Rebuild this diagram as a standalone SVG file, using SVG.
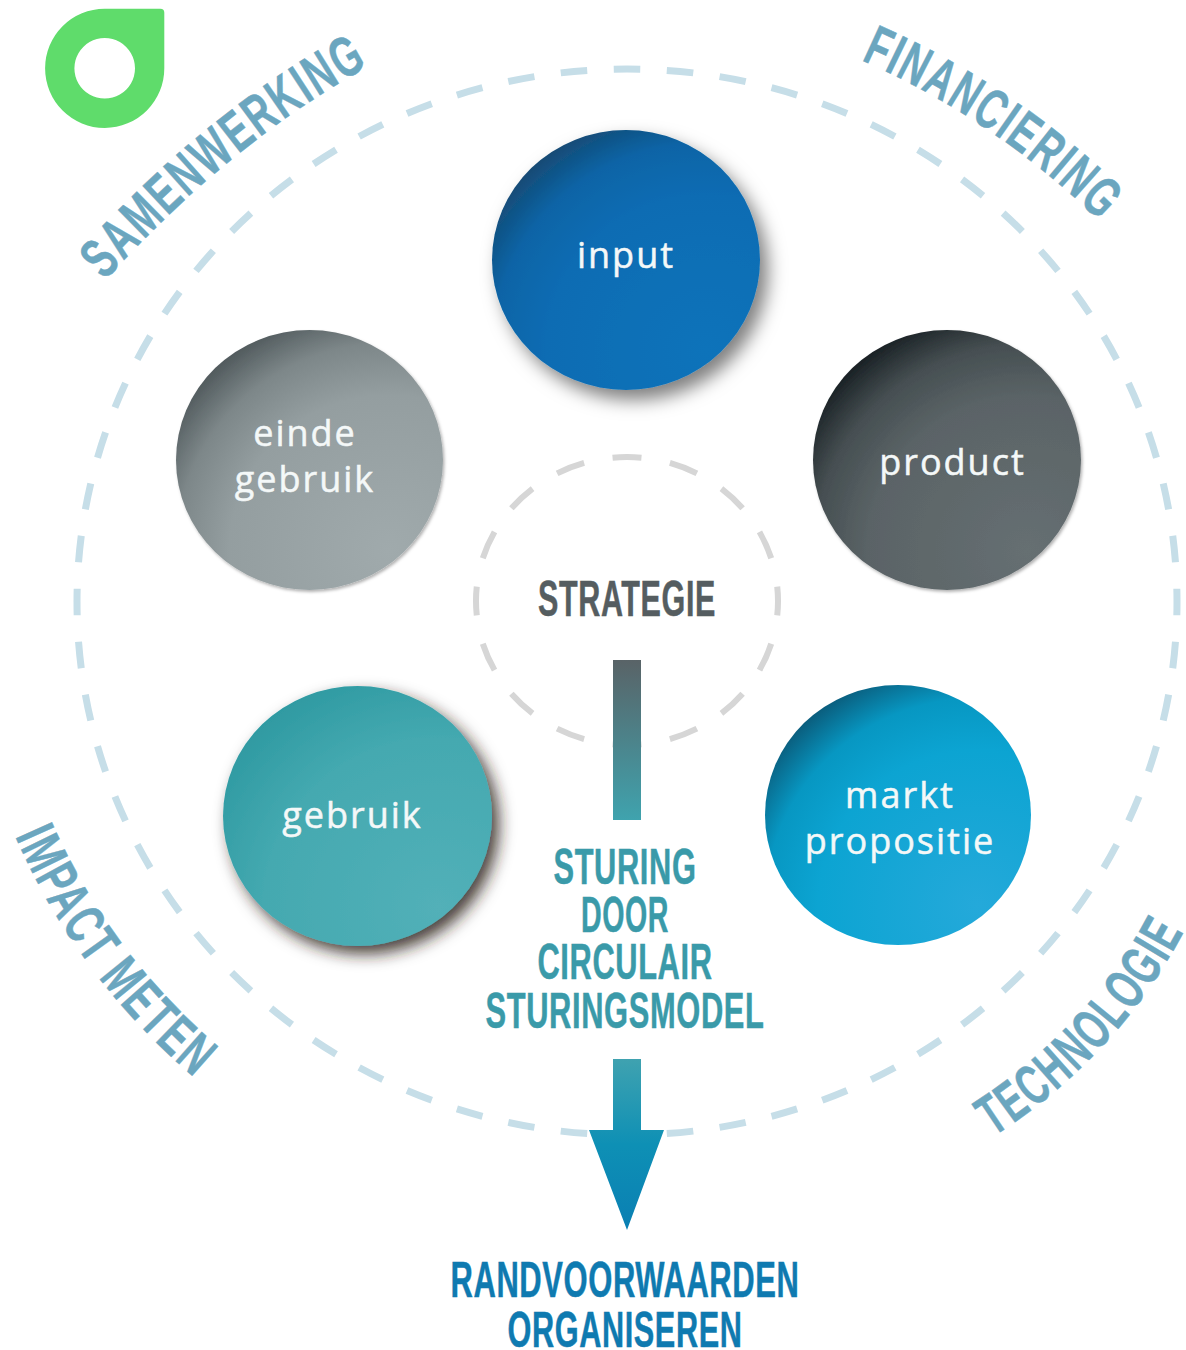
<svg xmlns="http://www.w3.org/2000/svg" width="1186" height="1350" viewBox="0 0 1186 1350">
<style>
.arc{font-family:"Liberation Sans Narrow","Liberation Sans",sans-serif;font-weight:700;fill:#6ba6bf;stroke:#6ba6bf;stroke-width:.5px;font-size:57px;letter-spacing:3px}
.head{font-family:"Liberation Sans Narrow","Liberation Sans",sans-serif;font-weight:700;text-anchor:middle;font-size:50px;stroke-width:.5px;letter-spacing:1px}
.node{font-family:"Open Sans","Noto Sans",sans-serif;font-weight:500;fill:#f4f8f8;stroke:#f4f8f8;stroke-width:.5px;font-size:36px;text-anchor:middle;letter-spacing:2px}
</style>
<defs>
<radialGradient id="gInput" cx="0.8" cy="0.85" r="1"><stop offset="0" stop-color="#0e73ba"/><stop offset="0.6" stop-color="#0a6cb3"/><stop offset="0.8" stop-color="#0764a6"/><stop offset="1" stop-color="#1a4468"/></radialGradient>
<radialGradient id="gEinde" cx="0.8" cy="0.85" r="1"><stop offset="0" stop-color="#a0aaac"/><stop offset="0.6" stop-color="#949ea0"/><stop offset="0.8" stop-color="#7d8789"/><stop offset="1" stop-color="#464f52"/></radialGradient>
<radialGradient id="gProduct" cx="0.8" cy="0.85" r="1"><stop offset="0" stop-color="#666f72"/><stop offset="0.6" stop-color="#5a6366"/><stop offset="0.8" stop-color="#454e51"/><stop offset="1" stop-color="#0f161a"/></radialGradient>
<radialGradient id="gGebruik" cx="0.8" cy="0.85" r="1"><stop offset="0" stop-color="#52b0b8"/><stop offset="0.65" stop-color="#44a9b0"/><stop offset="1" stop-color="#2c98a0"/></radialGradient>
<radialGradient id="gMarkt" cx="0.8" cy="0.85" r="1"><stop offset="0" stop-color="#24a9da"/><stop offset="0.6" stop-color="#0ca4d2"/><stop offset="0.8" stop-color="#0797c2"/><stop offset="1" stop-color="#0b4f6c"/></radialGradient>
<linearGradient id="gBar" x1="0" y1="0" x2="0" y2="1"><stop offset="0" stop-color="#596367"/><stop offset="1" stop-color="#3fa3ae"/></linearGradient>
<linearGradient id="gArrow" gradientUnits="userSpaceOnUse" x1="0" y1="1059" x2="0" y2="1230"><stop offset="0" stop-color="#3fa2b0"/><stop offset="0.5" stop-color="#0e90b5"/><stop offset="1" stop-color="#0a7fb3"/></linearGradient>
<filter id="shA" x="-20%" y="-20%" width="150%" height="150%"><feDropShadow dx="8" dy="10" stdDeviation="9" flood-color="#000" flood-opacity="0.5"/></filter>
<filter id="shB" x="-20%" y="-20%" width="150%" height="150%"><feDropShadow dx="1.5" dy="2" stdDeviation="1.5" flood-color="#000" flood-opacity="0.3"/></filter>
<filter id="shC" x="-20%" y="-20%" width="150%" height="150%"><feDropShadow dx="7" dy="8" stdDeviation="8" flood-color="#2a1a14" flood-opacity="0.85"/></filter>
<path id="pSamen" d="M105 281 Q229 143 369 66"/>
<path id="pFin" d="M861 60 Q995 119 1098 220"/>
<path id="pImp" d="M15 836 Q77 978 196 1079"/>
<path id="pTech" d="M993 1137 Q1117 1057 1183 933"/>
</defs>
<g id="outer-ring"><ellipse cx="627" cy="602" rx="550" ry="533" fill="none" stroke="#c6dee8" stroke-width="7" pathLength="64" stroke-dasharray=".5 .5" stroke-dashoffset=".25"/></g>
<g id="inner-ring"><ellipse cx="627" cy="601" rx="151" ry="144" fill="none" stroke="#d6d6d6" stroke-width="6" pathLength="16" stroke-dasharray=".5 .5" stroke-dashoffset=".25"/></g>
<g id="logo"><path fill="#5fdc6b" fill-rule="evenodd" d="M104.7 8.7H160.3a4 4 0 0 1 4 4V68.2A59.6 59.6 0 1 1 104.7 8.7ZM104.7 38a30.3 30.3 0 1 0 .01 0Z"/></g>
<g id="label-samenwerking"><text class="arc"><textPath href="#pSamen" textLength="343" lengthAdjust="spacingAndGlyphs">SAMENWERKING</textPath></text></g>
<g id="label-financiering"><text class="arc"><textPath href="#pFin" textLength="291" lengthAdjust="spacingAndGlyphs">FINANCIERING</textPath></text></g>
<g id="label-impact"><text class="arc"><textPath href="#pImp" textLength="305" lengthAdjust="spacingAndGlyphs">IMPACT METEN</textPath></text></g>
<g id="label-technologie"><text class="arc"><textPath href="#pTech" textLength="285" lengthAdjust="spacingAndGlyphs">TECHNOLOGIE</textPath></text></g>
<g id="connectors">
<rect x="613" y="660" width="28" height="160" fill="url(#gBar)"/>
<path fill="url(#gArrow)" d="M613 1059H641V1130H664L627 1230L589 1130H613Z"/>
</g>
<g id="node-input"><ellipse cx="626" cy="260" rx="134" ry="130" fill="url(#gInput)" filter="url(#shA)"/><text class="node" x="626" y="268">input</text></g>
<g id="node-einde"><ellipse cx="309.5" cy="460" rx="133.5" ry="130" fill="url(#gEinde)" filter="url(#shB)"/><text class="node" x="305" y="446">einde</text><text class="node" x="305" y="492">gebruik</text></g>
<g id="node-product"><ellipse cx="947" cy="460" rx="134" ry="130" fill="url(#gProduct)" filter="url(#shB)"/><text class="node" x="952.5" y="475">product</text></g>
<g id="node-gebruik"><ellipse cx="357.5" cy="816" rx="134.5" ry="130" fill="url(#gGebruik)" filter="url(#shC)"/><text class="node" x="352.5" y="828">gebruik</text></g>
<g id="node-markt"><ellipse cx="898" cy="815" rx="133" ry="130" fill="url(#gMarkt)"/><text class="node" x="900" y="808">markt</text><text class="node" x="900" y="854">propositie</text></g>
<g id="label-strategie"><text class="head" x="627" y="616" fill="#555d60" stroke="#555d60" textLength="178" lengthAdjust="spacingAndGlyphs">STRATEGIE</text></g>
<g id="label-sturing" fill="#3a9aa9" stroke="#3a9aa9">
<text class="head" x="625" y="884" textLength="143" lengthAdjust="spacingAndGlyphs">STURING</text>
<text class="head" x="625" y="932" textLength="88" lengthAdjust="spacingAndGlyphs">DOOR</text>
<text class="head" x="625" y="979" textLength="175" lengthAdjust="spacingAndGlyphs">CIRCULAIR</text>
<text class="head" x="625" y="1028" textLength="279" lengthAdjust="spacingAndGlyphs">STURINGSMODEL</text>
</g>
<g id="label-randvoorwaarden" fill="#0f7ab0" stroke="#0f7ab0">
<text class="head" x="625" y="1297" textLength="349" lengthAdjust="spacingAndGlyphs">RANDVOORWAARDEN</text>
<text class="head" x="625" y="1347" textLength="235" lengthAdjust="spacingAndGlyphs">ORGANISEREN</text>
</g>
</svg>
